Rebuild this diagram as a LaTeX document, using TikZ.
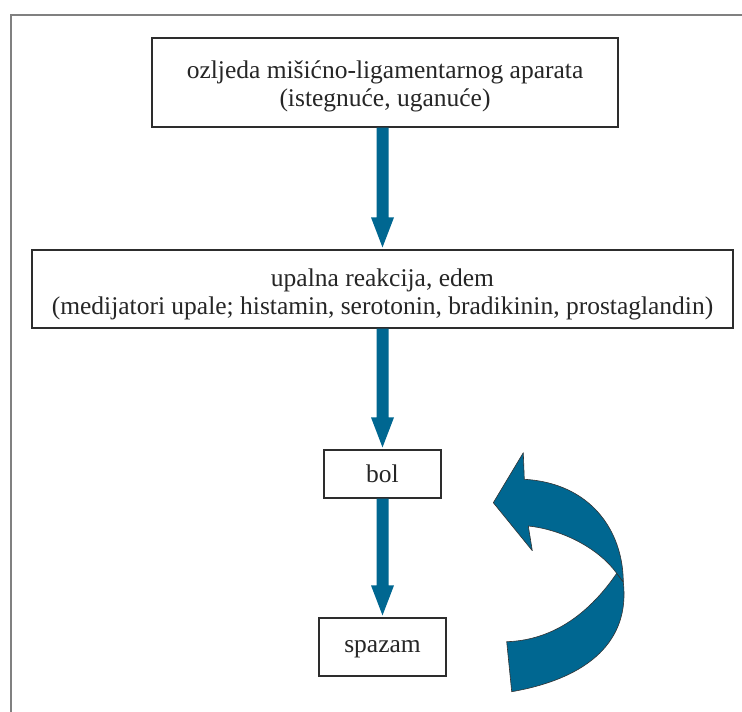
\documentclass[tikz,border=0pt]{standalone}
\usepackage{fontspec}
\setmainfont{Liberation Serif}
\usetikzlibrary{calc}
\definecolor{arrowblue}{RGB}{0,103,145}
\definecolor{framegray}{RGB}{128,128,128}
\definecolor{boxline}{RGB}{45,45,45}
\newcommand\flowarrow[2]{%
  \fill[arrowblue]
    ($(#1.south -| #2.north)+(-6,0)$) -- ($(#2.north)+(-6,-32)$) -- ($(#2.north)+(-11.5,-32)$)
    -- ($(#2.north)+(0,-2)$) -- ($(#2.north)+(11.5,-32)$) -- ($(#2.north)+(6,-32)$)
    -- ($(#1.south -| #2.north)+(6,0)$) -- cycle;}
\begin{document}
\begin{tikzpicture}[x=1pt,y=-1pt,
  box/.style={draw=boxline, line width=1.2pt, fill=white, inner sep=0pt},
  boxtext/.style={align=center, font=\fontsize{25.5}{28}\selectfont,
    text=black!85, inner sep=0pt},
  curved/.style={fill=arrowblue, draw=black!80, line width=0.6pt, line join=round}]
\useasboundingbox (0,0) rectangle (742,712);
\fill[white] (0,0) rectangle (742,712);
\draw[framegray, line width=1.6pt] (11,712) -- (11,15) -- (742,15);

\node[box, minimum width=466, minimum height=89] (injury) at (385,82.5) {};
\node[boxtext] (injurytext) at ($(injury)+(0,4)$)
  {ozljeda mišićno-ligamentarnog aparata\\(istegnuće, uganuće)};
\node[box, minimum width=701, minimum height=78] (inflam) at (382.5,289) {};
\node[boxtext] (inflamtext) at ($(inflam)+(0,5)$)
  {upalna reakcija, edem\\ (medijatori upale; histamin, serotonin, bradikinin, prostaglandin)};
\node[box, minimum width=117, minimum height=48] (pain) at (382.5,474) {};
\node[boxtext] (paintext) at (pain) {bol};
\node[box, minimum width=127, minimum height=58] (spasm) at (382.5,647) {};
\node[boxtext] (spasmtext) at ($(spasm)+(0,2)$) {spazam};

\flowarrow{injury}{inflam}
\flowarrow{inflam}{pain}
\flowarrow{pain}{spasm}

% curved (twisted) loop arrow
\path[curved] (616.7,573.3) .. controls (595,605) and (560,640) .. (506.7,641.7)
  -- (511.7,691.7) .. controls (590,678) and (630,640) .. (623.3,582) -- cycle;
\path[curved] (523.3,452.7) -- (493.3,502.7) -- (532.3,550.7) -- (528.3,526)
  .. controls (565,530) and (600,550) .. (616.7,573.3) -- (623.3,582)
  .. controls (623,530) and (590,483) .. (524.3,479.3) -- cycle;
\end{tikzpicture}
\end{document}
